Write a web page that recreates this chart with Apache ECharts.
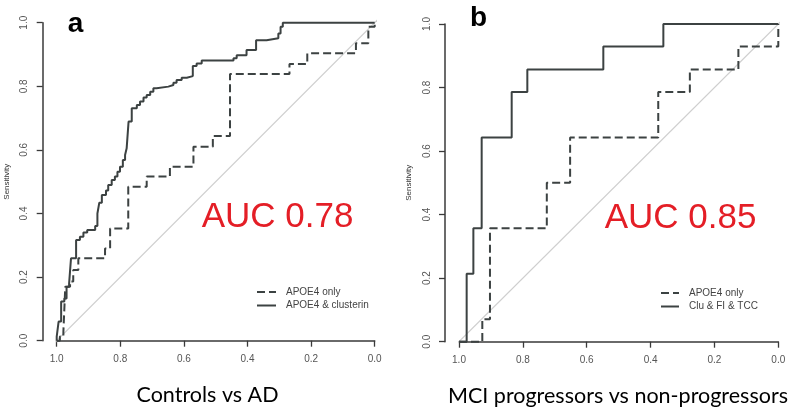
<!DOCTYPE html>
<html><head><meta charset="utf-8">
<script src="https://cdn.jsdelivr.net/npm/echarts@6/dist/echarts.min.js"></script>
<style>html,body{margin:0;padding:0;background:#fff}#c{width:798px;height:410px}</style>
</head><body><div id="c"></div>
<script>
// Tick values / labels (shared by both axes of both panels)
const tickValues = [0, 0.2, 0.4, 0.6, 0.8, 1.0];
const tickLabels = ['0.0', '0.2', '0.4', '0.6', '0.8', '1.0'];

// Panel a: Controls vs AD
const specA_apoe = [1.000, 0.990, 0.979, 0.973, 0.958, 0.948, 0.932, 0.848, 0.832, 0.775, 0.717, 0.644, 0.570, 0.509, 0.455, 0.268, 0.212, 0.059, 0.020, 0.000];
const sensA_apoe = [0.000, 0.013, 0.028, 0.170, 0.186, 0.222, 0.259, 0.290, 0.353, 0.484, 0.516, 0.547, 0.610, 0.644, 0.839, 0.870, 0.904, 0.935, 0.987, 1.000];
const specA_clu = [1.000, 1.000, 0.994, 0.986, 0.976, 0.969, 0.961, 0.955, 0.939, 0.927, 0.916, 0.904, 0.879, 0.872, 0.866, 0.858, 0.845, 0.838, 0.827, 0.817, 0.809, 0.801, 0.792, 0.785, 0.780, 0.774, 0.764, 0.748, 0.738, 0.727, 0.717, 0.706, 0.696, 0.686, 0.649, 0.633, 0.623, 0.607, 0.591, 0.572, 0.560, 0.544, 0.444, 0.434, 0.403, 0.373, 0.340, 0.303, 0.296, 0.289, 0.000];
const sensA_clu = [0.000, 0.013, 0.060, 0.123, 0.133, 0.170, 0.180, 0.259, 0.317, 0.327, 0.340, 0.348, 0.361, 0.400, 0.434, 0.458, 0.472, 0.490, 0.505, 0.516, 0.531, 0.547, 0.568, 0.584, 0.605, 0.689, 0.731, 0.741, 0.752, 0.765, 0.773, 0.783, 0.794, 0.799, 0.804, 0.811, 0.820, 0.827, 0.832, 0.864, 0.872, 0.881, 0.888, 0.898, 0.914, 0.945, 0.951, 0.966, 0.987, 1.000, 1.000];

// Panel b: MCI progressors vs non-progressors
const specB_apoe = [1.000, 0.927, 0.903, 0.725, 0.652, 0.376, 0.277, 0.125, 0.000];
const sensB_apoe = [0.000, 0.071, 0.357, 0.500, 0.643, 0.786, 0.857, 0.929, 1.000];
const specB_combo = [1.000, 0.976, 0.955, 0.929, 0.835, 0.786, 0.548, 0.360, 0.000];
const sensB_combo = [0.000, 0.214, 0.357, 0.643, 0.786, 0.857, 0.929, 1.000, 1.000];

// chance diagonal (extends slightly past the axes as in the original R plot)
const chanceLine = [[1.04, -0.04], [-0.04, 1.04]];

const panelTitles = ['Controls vs AD', 'MCI progressors vs non-progressors'];
const panelLetters = ['a', 'b'];
const aucLabels = ['AUC 0.78', 'AUC 0.85'];
const seriesNames = ['APOE4 only', 'APOE4 & clusterin', 'Clu & FI & TCC'];

const zip = (xs, ys) => xs.map((x, i) => [x, ys[i]]);
const LINE = '#3c4242';
const AXIS = '#3a3a3a';
const FONT = '"Liberation Sans", Arial, sans-serif';
const tickFmt = v => tickLabels[tickValues.findIndex(t => Math.abs(t - v) < 1e-6)];

function xAx(g) {
  return {
    type: 'value', gridIndex: g, min: 0, max: 1, interval: 0.2, inverse: true,
    axisLine: { onZero: false, lineStyle: { color: AXIS, width: 1.5 } },
    axisTick: { length: 6, lineStyle: { color: AXIS, width: 1.3 } },
    axisLabel: { margin: 14, fontSize: 10, color: '#555', fontFamily: FONT, formatter: tickFmt },
    splitLine: { show: false }
  };
}
function yAx(g) {
  return {
    type: 'value', gridIndex: g, min: 0, max: 1, interval: 0.2, offset: 14,
    name: 'Sensitivity', nameLocation: 'middle', nameGap: 32,
    nameTextStyle: { fontSize: 8, color: '#333', fontFamily: FONT },
    axisLine: { show: true, onZero: false, lineStyle: { color: AXIS, width: 1.5 } },
    axisTick: { show: true, length: 6, lineStyle: { color: AXIS, width: 1.3 } },
    axisLabel: { margin: 13, rotate: 90, fontSize: 10, color: '#555', fontFamily: FONT, formatter: tickFmt },
    splitLine: { show: false }
  };
}
function curve(name, g, data, dashed) {
  return {
    name, type: 'line', xAxisIndex: g, yAxisIndex: g, data, step: 'end',
    symbol: 'none', clip: false, z: 3,
    lineStyle: { color: LINE, width: 2, type: dashed ? [8, 4] : 'solid' },
    itemStyle: { color: LINE }
  };
}
function diag(g) {
  return {
    name: 'chance', type: 'line', xAxisIndex: g, yAxisIndex: g, data: chanceLine,
    symbol: 'none', clip: false, silent: true, z: 1,
    lineStyle: { color: '#cfcfcf', width: 1.2 }
  };
}
function legendFor(names, left, top, w) {
  return {
    data: names, orient: 'vertical', left, top,
    padding: 0, itemWidth: w, itemHeight: 10, itemGap: 3.5, selectedMode: false,
    itemStyle: { color: 'rgba(0,0,0,0)', borderWidth: 0, opacity: 0 },
    textStyle: { fontSize: 10, color: '#444', fontFamily: FONT, padding: [0, 0, 0, 5] }
  };
}

const chart = echarts.init(document.getElementById('c'), null, { renderer: 'canvas' });
chart.setOption({
  animation: false,
  backgroundColor: '#fff',
  grid: [
    { left: 56.7, top: 22.7, width: 318, height: 318 },
    { left: 459, top: 24, width: 319.3, height: 317.7 }
  ],
  xAxis: [xAx(0), xAx(1)],
  yAxis: [yAx(0), yAx(1)],
  legend: [
    legendFor([seriesNames[0], seriesNames[1]], 256, 287, 19),
    legendFor([seriesNames[0], seriesNames[2]], 660, 288, 18)
  ],
  series: [
    diag(0),
    curve(seriesNames[0], 0, zip(specA_apoe, sensA_apoe), true),
    curve(seriesNames[1], 0, zip(specA_clu, sensA_clu), false),
    diag(1),
    curve(seriesNames[0], 1, zip(specB_apoe, sensB_apoe), true),
    curve(seriesNames[2], 1, zip(specB_combo, sensB_combo), false)
  ],
  graphic: [
    { type: 'text', x: 75.5, y: 24, style: { text: panelLetters[0], font: 'bold 28px ' + FONT, fill: '#000', textAlign: 'center', textVerticalAlign: 'middle' } },
    { type: 'text', x: 478.5, y: 18, style: { text: panelLetters[1], font: 'bold 28px ' + FONT, fill: '#000', textAlign: 'center', textVerticalAlign: 'middle' } },
    { type: 'text', x: 277.5, y: 217, style: { text: aucLabels[0], font: '35px ' + FONT, fill: '#e41e26', textAlign: 'center', textVerticalAlign: 'middle' } },
    { type: 'text', x: 680.5, y: 218.5, style: { text: aucLabels[1], font: '35px ' + FONT, fill: '#e41e26', textAlign: 'center', textVerticalAlign: 'middle' } },
    { type: 'text', x: 207.5, y: 395, style: { text: panelTitles[0], font: '21.5px Lato, "Open Sans", sans-serif', fill: '#000', textAlign: 'center', textVerticalAlign: 'middle' } },
    { type: 'text', x: 618, y: 396, style: { text: panelTitles[1], font: '21.5px Lato, "Open Sans", sans-serif', fill: '#000', textAlign: 'center', textVerticalAlign: 'middle' } }
  ]
});
</script>
</body></html>
